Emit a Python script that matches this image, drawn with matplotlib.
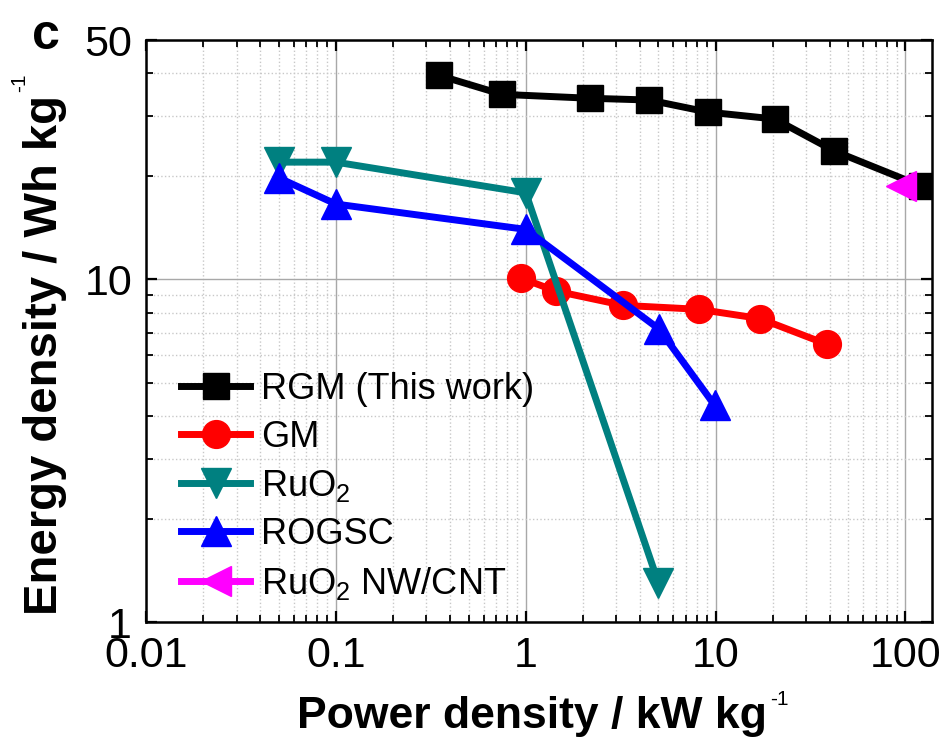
import numpy as np
import matplotlib
matplotlib.use("Agg")
import matplotlib.pyplot as plt

plt.rcParams['font.family'] = ['Liberation Sans', 'DejaVu Sans']
plt.rcParams['mathtext.fontset'] = 'custom'
plt.rcParams['mathtext.rm'] = 'Liberation Sans'
plt.rcParams['mathtext.default'] = 'regular'

# data (power density kW/kg, energy density Wh/kg)
rgm_x = [0.35, 0.75, 2.17, 4.46, 9.1, 20.5, 42.3, 122]
rgm_y = [39.4, 34.7, 33.8, 33.4, 30.8, 29.4, 23.7, 18.7]

gm_x = [0.94, 1.44, 3.27, 8.17, 17.1, 38.5]
gm_y = [10.1, 9.25, 8.4, 8.18, 7.69, 6.47]

ruo2_x = [0.05, 0.1, 1.0, 5.0]
ruo2_y = [22.0, 22.0, 17.9, 1.3]

rogsc_x = [0.05, 0.1, 1.0, 5.03, 9.9]
rogsc_y = [19.8, 16.6, 14.0, 7.17, 4.29]

nw_x = [95]
nw_y = [18.8]

W, H = 943, 742
fig = plt.figure(figsize=(W / 100, H / 100), dpi=100)
ax = fig.add_axes([146 / W, 1 - 622 / H, 786 / W, 582 / H])

lw = 5
ax.plot(rgm_x, rgm_y, '-s', color='black', lw=lw, ms=19, label='RGM (This work)')
ax.plot(gm_x, gm_y, '-o', color='#FF0000', lw=lw, ms=20, label='GM')
ax.plot(ruo2_x, ruo2_y, '-v', color='#008080', lw=lw, ms=21, label='RuO$_2$')
ax.plot(rogsc_x, rogsc_y, '-^', color='#0000FF', lw=lw, ms=21, label='ROGSC')
ax.plot(nw_x, nw_y, '-<', color='#FF00FF', lw=lw, ms=22, label='RuO$_2$ NW/CNT')

ax.set_xscale('log')
ax.set_yscale('log')
ax.set_xlim(0.01, 138)
ax.set_ylim(1, 50)

ax.set_xticks([0.01, 0.1, 1, 10, 100])
ax.set_xticklabels(['0.01', '0.1', '1', '10', '100'])
ax.set_yticks([1, 10, 50])
ax.set_yticklabels(['1', '10', '50'])

ax.grid(which='major', color='#A8A8A8', lw=1.0, ls='-')
ax.grid(which='minor', color='#C8C8C8', lw=1.0, ls=':')
ax.set_axisbelow(True)

ax.tick_params(which='both', direction='in', top=True, right=True, labelsize=31)
ax.tick_params(which='major', length=8, width=1.6, pad=10)
ax.tick_params(which='minor', length=5, width=1.3)
for s in ax.spines.values():
    s.set_linewidth(1.8)

ax.legend(loc='upper left', bbox_to_anchor=(0.045, 0.43), frameon=False, fontsize=26,
          handlelength=1.9, handletextpad=0.3, labelspacing=0.36, borderpad=0, borderaxespad=0)

# axis titles with small superscripts, as in the original
xl = fig.text(532 / W, 1 - 728 / H, 'Power density / kW kg', fontsize=32, fontweight='bold',
              ha='center', va='baseline')
yl = fig.text(57 / W, 1 - 355 / H, 'Energy density / Wh kg', fontsize=34, fontweight='bold',
              ha='center', va='baseline', rotation=90, rotation_mode='anchor')
fig.text(46 / W, 1 - 36 / H, 'c', fontsize=36, fontweight='bold', ha='center', va='center')

fig.canvas.draw()
r = fig.canvas.get_renderer()
bx = xl.get_window_extent(r)
fig.text((bx.x1 + 3) / W, (bx.y1 + 6) / H, '-1', fontsize=15, ha='left', va='top')
by = yl.get_window_extent(r)
fig.text((by.x0 + 6) / W, (by.y1 + 3) / H, '-1', fontsize=15, ha='right', va='bottom', rotation=90)

fig.savefig('out.png', dpi=100)
